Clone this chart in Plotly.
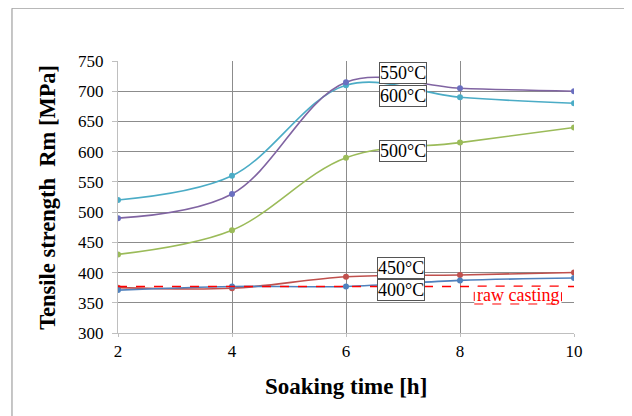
import plotly.graph_objects as go

soaking_time = [2, 4, 6, 8, 10]
rm_600 = [520, 560, 710, 690, 680]
rm_550 = [490, 530, 715, 705, 700]
rm_500 = [430, 470, 590, 615, 640]
rm_450 = [375, 374, 393, 396, 400]
rm_400 = [371, 377, 377, 387, 391]
raw_casting = [377, 377]
raw_x = [2, 10]

series = [
    ("600°C", rm_600, "#4BACC6", "#4BACC6"),
    ("550°C", rm_550, "#8064A2", "#6A6FC0"),
    ("500°C", rm_500, "#9BBB59", "#9BBB59"),
    ("450°C", rm_450, "#C0504D", "#C0504D"),
    ("400°C", rm_400, "#4F81BD", "#4F81BD"),
]

# label positions (x, y) for in-chart labels
label_pos = {
    "550°C": (7.0, 730),
    "600°C": (7.0, 692),
    "500°C": (7.0, 601),
    "450°C": (6.96, 408),
    "400°C": (6.96, 371),
}

fig = go.Figure()
for name, vals, col, mcol in series:
    fig.add_trace(go.Scatter(
        x=soaking_time, y=vals, mode="lines+markers", name=name,
        line=dict(color=col, width=1.6, shape="spline", smoothing=1.0),
        marker=dict(color=mcol, size=6),
    ))

fig.add_trace(go.Scatter(
    x=raw_x, y=raw_casting, mode="lines", name="raw casting",
    line=dict(color="#FF0000", width=1.4, dash="dash"),
))

serif = "Liberation Serif"
annotations = []
for name, (lx, ly) in label_pos.items():
    annotations.append(dict(
        x=lx, y=ly, xref="x", yref="y", text=name, showarrow=False,
        font=dict(family=serif, size=18, color="#000"),
        bgcolor="white", bordercolor="#555", borderwidth=1, borderpad=0,
    ))
annotations.append(dict(
    x=9.01, y=362.5, xref="x", yref="y", text="raw casting", showarrow=False,
    font=dict(family=serif, size=18, color="#FF0000"),
    borderpad=0,
))
annotations.append(dict(
    x=0.5, y=-0.196, xref="paper", yref="paper", text="<b>Soaking time [h]</b>",
    showarrow=False, font=dict(family=serif, size=23, color="#000"),
    xanchor="center", yanchor="middle",
))
annotations.append(dict(
    x=-0.156, y=0.5, xref="paper", yref="paper",
    text="<b>Tensile strength  Rm [MPa]</b>", textangle=-90,
    showarrow=False, font=dict(family=serif, size=22.5, color="#000"),
    xanchor="center", yanchor="middle",
))

shapes = [
    dict(type="rect", xref="x", yref="y", x0=8.25, x1=9.78, y0=348, y1=377.5,
         layer="above",
         line=dict(color="#FF0000", width=1, dash="dash"), fillcolor="white"),
    dict(type="line", xref="paper", yref="paper", x0=-0.2325, x1=-0.2325,
         y0=-0.4, y1=1.194, line=dict(color="#A0A0A0", width=1.2)),
    dict(type="line", xref="paper", yref="paper", x0=-0.2325, x1=1.3,
         y0=1.194, y1=1.194, line=dict(color="#A0A0A0", width=1.2)),
]

fig.update_layout(
    width=624, height=408,
    margin=dict(l=110, r=58, t=53, b=83),
    paper_bgcolor="white", plot_bgcolor="white",
    showlegend=False,
    annotations=annotations, shapes=shapes,
    font=dict(family=serif, color="#000"),
)
fig.update_xaxes(
    range=[2, 10], tickvals=[2, 4, 6, 8, 10],
    showgrid=True, gridcolor="#8C8C8C", gridwidth=1,
    showline=True, linecolor="#BFBFBF", mirror=False,
    ticks="outside", ticklen=3, tickcolor="#BFBFBF",
    tickfont=dict(family=serif, size=17, color="#000"), zeroline=False,
)
fig.update_yaxes(
    range=[300, 750], tickvals=list(range(300, 751, 50)),
    showgrid=True, gridcolor="#8C8C8C", gridwidth=1,
    showline=True, linecolor="#BFBFBF",
    ticks="outside", ticklen=5, tickcolor="#BFBFBF", ticklabelstandoff=5,
    tickfont=dict(family=serif, size=17, color="#000"), zeroline=False,
)

fig.write_html("out.html")
